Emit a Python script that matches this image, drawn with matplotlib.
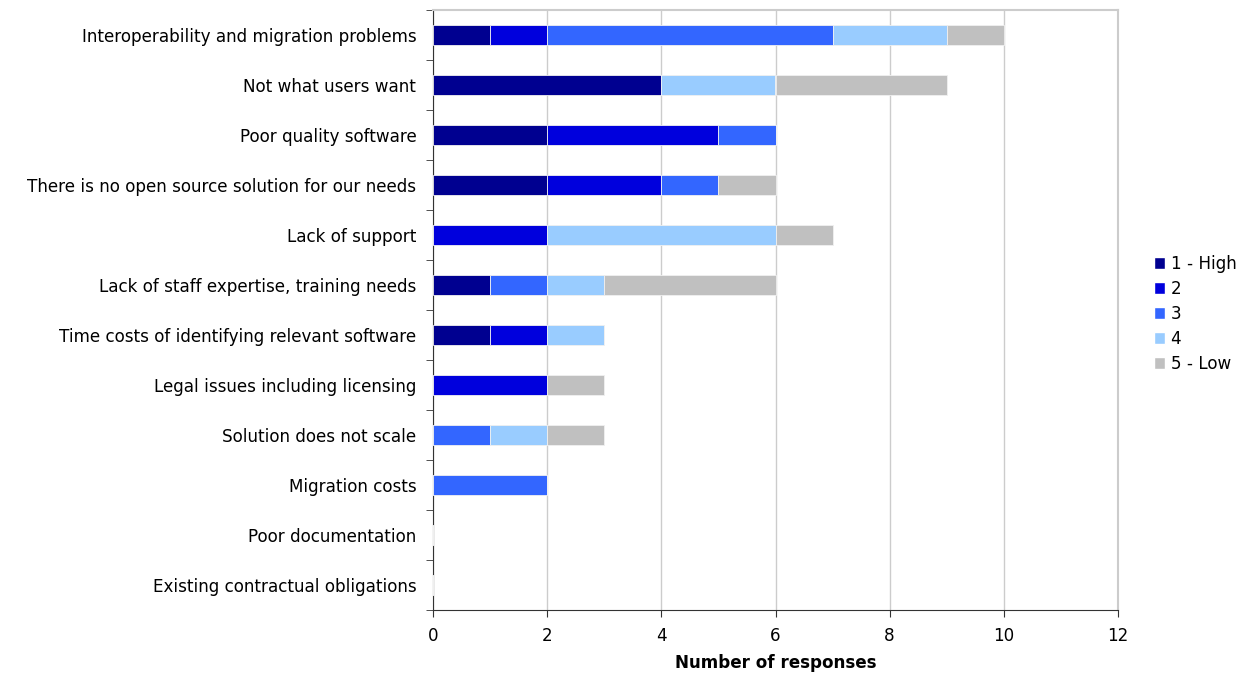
import numpy as np
import matplotlib
matplotlib.use("Agg")
import matplotlib.pyplot as plt
from matplotlib.patches import Patch

categories = [
    "Interoperability and migration problems",
    "Not what users want",
    "Poor quality software",
    "There is no open source solution for our needs",
    "Lack of support",
    "Lack of staff expertise, training needs",
    "Time costs of identifying relevant software",
    "Legal issues including licensing",
    "Solution does not scale",
    "Migration costs",
    "Poor documentation",
    "Existing contractual obligations",
]
series_names = ["1 - High", "2", "3", "4", "5 - Low"]
high = [1, 4, 2, 2, 0, 1, 1, 0, 0, 0, 0, 0]
two = [1, 0, 3, 2, 2, 0, 1, 2, 0, 0, 0, 0]
three = [5, 0, 1, 1, 0, 1, 0, 0, 1, 2, 0, 0]
four = [2, 2, 0, 0, 4, 1, 1, 0, 1, 0, 0, 0]
low = [1, 3, 0, 1, 1, 3, 0, 1, 1, 0, 0, 0]
colors = ["#000090", "#0000DD", "#3366FF", "#99CCFF", "#C0C0C0"]

plt.rcParams['font.family'] = ['DejaVu Sans']
fs = 12.1

fig = plt.figure(figsize=(12.47, 6.76), dpi=100)
ax = fig.add_axes([433 / 1247, 1 - 610 / 676, 685 / 1247, 600 / 676])

y = np.arange(len(categories))
left = np.zeros(len(categories))
for vals, name, c in zip([high, two, three, four, low], series_names, colors):
    vals = np.array(vals, dtype=float)
    ax.barh(y, vals, left=left, height=0.4, color=c, edgecolor="#F0F0F0",
            linewidth=0.6, label=name, zorder=3)
    left += vals

ax.set_ylim(len(categories) - 0.5, -0.5)
ax.set_xlim(0, 12)
ax.set_xticks(range(0, 13, 2))
ax.set_yticks(y)
ax.set_yticklabels(categories, fontsize=fs)
ax.set_yticks(np.arange(-0.5, len(categories), 1), minor=True)
ax.tick_params(axis="y", which="major", length=0, pad=12)
ax.tick_params(axis="y", which="minor", length=5, direction="out", color="#333333")
ax.tick_params(axis="x", length=5, direction="out", labelsize=fs, pad=7, color="#333333")
ax.grid(axis="x", color="#CCCCCC", linewidth=1, zorder=0)
ax.set_xlabel("Number of responses", fontsize=fs, fontweight="bold", labelpad=7)

for side in ["top", "right"]:
    ax.spines[side].set_color("#CCCCCC")
    ax.spines[side].set_linewidth(1.5)
for side in ["left", "bottom"]:
    ax.spines[side].set_color("#333333")

handles = [Patch(facecolor=c, edgecolor="white", label=n) for c, n in zip(colors, series_names)]
fig.legend(handles=handles, loc="upper left", bbox_to_anchor=(1147 / 1247, 1 - 248 / 676),
           frameon=False, fontsize=fs, handlelength=0.7, handleheight=0.7,
           handletextpad=0.3, labelspacing=0.42, borderaxespad=0)

fig.savefig("out.png", dpi=100)
